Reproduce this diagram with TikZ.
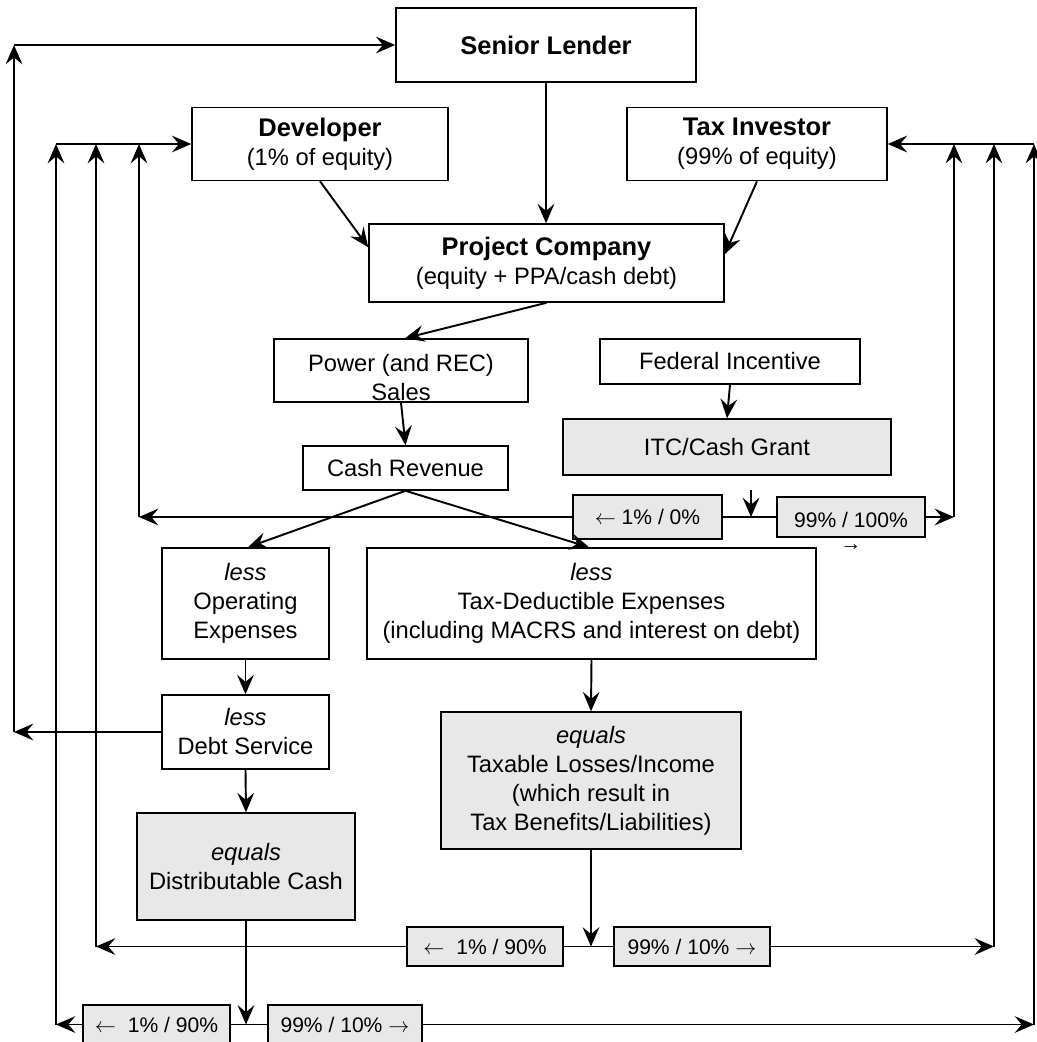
\documentclass[tikz,border=0pt]{standalone}
\usepackage{fontspec}
\setmainfont{Liberation Sans}
\usetikzlibrary{arrows.meta}
\definecolor{boxgrey}{RGB}{232,232,232}
\tikzset{
    box/.style={draw,line width=0.9pt,fill=white,align=center,inner sep=1pt,font=\fontsize{13.5}{16.5}\selectfont},
    greybox/.style={box,fill=boxgrey},
    splitbox/.style={greybox,font=\fontsize{12}{14}\selectfont},
    flow/.style={line width=1.1pt,-{Stealth[length=11pt,width=9.5pt,inset=4pt]}},
    wire/.style={line width=1.1pt},
}
\newcommand{\hd}[1]{{\fontsize{14.5}{17}\selectfont\bfseries #1}}
\newcommand{\toleft}{$\leftarrow$}
\newcommand{\toright}{$\rightarrow$}

\begin{document}
\begin{tikzpicture}[x=0.02cm,y=-0.02cm]
    \useasboundingbox (0,0) rectangle (1037,1042);

    \node[box,minimum width=6cm,minimum height=1.48cm] (lender) at (546,45) {\hd{Senior Lender}};
    \node[box,minimum width=5.12cm,minimum height=1.46cm] (dev) at (320,144) {\hd{Developer}\\(1\% of equity)};
    \node[box,minimum width=5.2cm,minimum height=1.46cm] (taxinv) at (757,144) {\hd{Tax Investor}\\(99\% of equity)};
    \node[box,minimum width=7.1cm,minimum height=1.56cm] (projco) at (546.5,263) {\hd{Project Company}\\(equity + PPA/cash debt)};
    \node[box,minimum width=5.08cm,minimum height=1.26cm,
        label={[align=center,font=\fontsize{13.5}{16.5}\selectfont,yshift=-0.14cm]center:Power (and REC)\\Sales}] (power) at (401,370.5) {};
    \node[box,minimum width=5.2cm,minimum height=0.9cm] (fedinc) at (730,361.5) {Federal Incentive};
    \node[greybox,minimum width=6.56cm,minimum height=1.12cm] (itc) at (727,447) {ITC/Cash Grant};
    \node[box,minimum width=4.1cm,minimum height=0.88cm] (cashrev) at (405.5,468) {Cash Revenue};
    \node[splitbox,minimum width=2.98cm,minimum height=0.88cm] (splitAl) at (647.5,517) {\toleft\ 1\% / 0\%};
    \node[splitbox,minimum width=2.96cm,minimum height=0.8cm,
        label={[align=center,font=\fontsize{12}{14}\selectfont,yshift=-0.29cm]center:99\% / 100\%\\[-1pt]→}] (splitAr) at (851,517) {};
    \node[box,minimum width=3.34cm,minimum height=2.22cm] (opex) at (245.5,603.5) {\textit{less}\\Operating\\Expenses};
    \node[box,minimum width=8.98cm,minimum height=2.22cm] (taxded) at (591.5,603.5) {\textit{less}\\Tax-Deductible Expenses\\(including MACRS and interest on debt)};
    \node[box,minimum width=3.34cm,minimum height=1.48cm] (debt) at (245.5,732) {\textit{less}\\Debt Service};
    \node[greybox,minimum width=4.36cm,minimum height=2.14cm] (distcash) at (246,866.5) {\textit{equals}\\Distributable Cash};
    \node[greybox,minimum width=6cm,minimum height=2.74cm] (taxable) at (591,780.5) {\textit{equals}\\Taxable Losses/Income\\(which result in\\Tax Benefits/Liabilities)};
    \node[splitbox,minimum width=3.12cm,minimum height=0.78cm] (splitBl) at (485,946.5) {\toleft\ \ 1\% / 90\%};
    \node[splitbox,minimum width=3.12cm,minimum height=0.78cm] (splitBr) at (692,946.5) {99\% / 10\% \toright};
    \node[splitbox,minimum width=2.94cm,minimum height=0.78cm] (splitCl) at (156.5,1024.5) {\toleft\ \ 1\% / 90\%};
    \node[splitbox,minimum width=3.08cm,minimum height=0.78cm] (splitCr) at (345,1024.5) {99\% / 10\% \toright};

    \coordinate (railA) at (14,45);
    \coordinate (railB) at (56,144);
    \coordinate (railC) at (96,144);
    \coordinate (railD) at (139,144);
    \coordinate (railE) at (954,144);
    \coordinate (railF) at (994,144);
    \coordinate (railG) at (1034,144);
    \coordinate (itcdrop) at (751,490);

    \draw[flow] (lender.south) -- (lender.south |- projco.north);
    \draw[flow] (dev.south) -- ([yshift=-0.48cm]projco.north west);
    \draw[flow] (taxinv.south) -- ([yshift=-0.62cm]projco.north east);
    \draw[flow] (projco.south) -- ([xshift=0.08cm]power.north);
    \draw[flow] (power.south) -- (cashrev.north);
    \draw[flow] (fedinc.south) -- (itc.north);
    \draw[flow] (cashrev.south) -- ([xshift=0.05cm]opex.north);
    \draw[flow] (cashrev.south) -- ([xshift=-0.05cm]taxded.north);
    \draw[flow] (opex.south) -- (debt.north);
    \draw[flow] (debt.south) -- (distcash.north);
    \draw[flow] (taxded.south) -- (taxable.north);

    \draw[flow] (debt.west) -- (debt.west -| railA);
    \draw[flow] (debt.west -| railA) -- (railA);
    \draw[flow] (railA) -- (railA -| lender.west);
    \draw[flow] (railB) -- (railB -| dev.west);
    \draw[flow] (railG) -- (railG -| taxinv.east);

    \draw[flow] (itcdrop) -- (itcdrop |- splitAl.east);
    \draw[wire] (splitAl.east) -- (splitAr.west);
    \draw[flow] (splitAl.west) -- (splitAl.west -| railD);
    \draw[flow] (splitAl.west -| railD) -- (railD);
    \draw[flow] (splitAr.east) -- (splitAr.east -| railE);
    \draw[flow] (splitAr.east -| railE) -- (railE);

    \draw[flow] (taxable.south) -- (taxable.south |- splitBl.east);
    \draw[wire] (splitBl.east) -- (splitBr.west);
    \draw[flow] (splitBl.west) -- (splitBl.west -| railC);
    \draw[flow] (splitBl.west -| railC) -- (railC);
    \draw[flow] (splitBr.east) -- (splitBr.east -| railF);
    \draw[flow] (splitBr.east -| railF) -- (railF);

    \draw[flow] (distcash.south) -- (distcash.south |- splitCl.east);
    \draw[wire] (splitCl.east) -- (splitCr.west);
    \draw[flow] (splitCl.west) -- (splitCl.west -| railB);
    \draw[flow] (splitCl.west -| railB) -- (railB);
    \draw[flow] (splitCr.east) -- (splitCr.east -| railG);
    \draw[flow] (splitCr.east -| railG) -- (railG);
\end{tikzpicture}
\end{document}
